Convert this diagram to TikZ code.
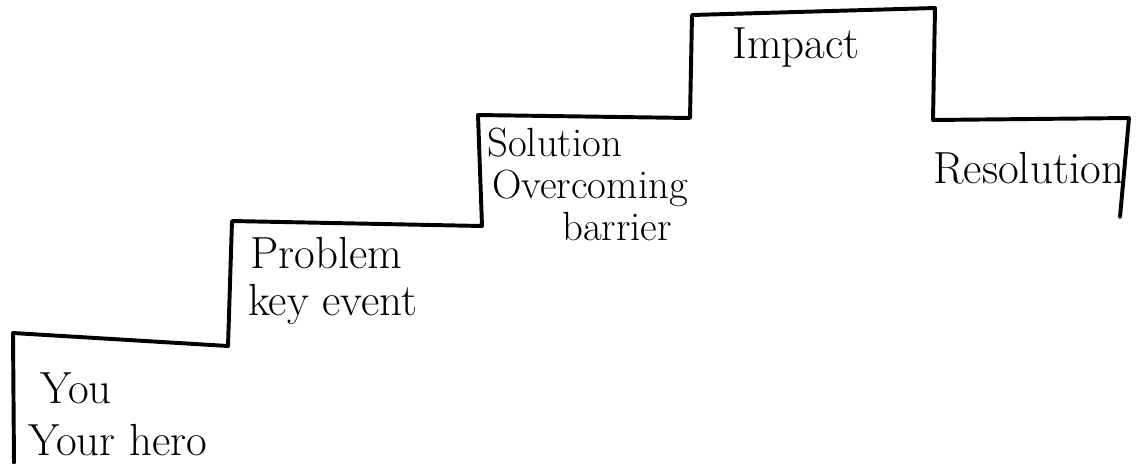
\documentclass[tikz,border=0pt]{standalone}
\usetikzlibrary{positioning}
\tikzset{
	stairline/.style={
			draw=black,
			line width=2.8pt,
			line join=round,
			line cap=round
		},
	steplabel/.style={
			anchor=base west,
			inner sep=0pt,
			align=left,
			font=\fontsize{32}{38}\selectfont
		},
	steplabelsmall/.style={
			steplabel,
			font=\fontsize{29}{34}\selectfont
		}
}
\begin{document}
\begin{tikzpicture}[x=0.025cm, y=-0.025cm]

\useasboundingbox (0,0) rectangle (1141,463);

\draw[stairline] (14,463) -- (13,333) -- (228,346) -- (232,221) -- (482,226)
  -- (478,115) -- (690,118) -- (692,15) -- (935,8) -- (933,120)
  -- (1129,118) -- (1120,217);

\node[steplabel] (you) at (40,403) {You};
\node[steplabel] (hero) at (28,455) {Your hero};

\node[steplabel] (problem) at (250,268) {Problem};
\node[steplabel] (keyevent) at (248,315) {key event};

\node[steplabelsmall] (solution) at (487,156) {Solution};
\node[steplabelsmall] (overcoming) at (492,198) {Overcoming};
\node[steplabelsmall] (barrier) at (562,240) {barrier};

\node[steplabel] (impact) at (732,58) {Impact};

\node[steplabel] (resolution) at (933,183) {Resolution};

\end{tikzpicture}
\end{document}
